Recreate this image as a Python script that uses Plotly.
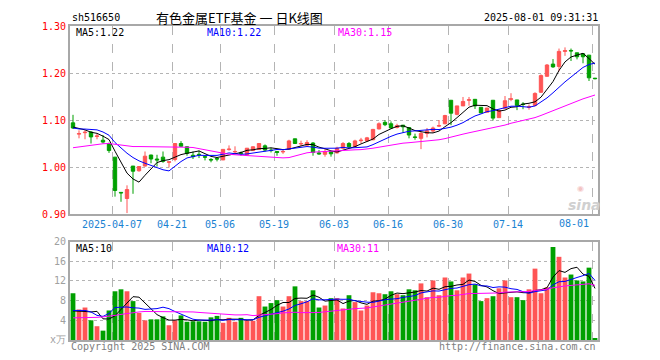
import plotly.graph_objects as go

# ---------------- data ----------------
dates = [
    "2025-03-26", "2025-03-27", "2025-03-28", "2025-03-31",
    "2025-04-01", "2025-04-02", "2025-04-03", "2025-04-07", "2025-04-08", "2025-04-09",
    "2025-04-10", "2025-04-11", "2025-04-14", "2025-04-15", "2025-04-16", "2025-04-17",
    "2025-04-18", "2025-04-21", "2025-04-22", "2025-04-23", "2025-04-24", "2025-04-25",
    "2025-04-28", "2025-04-29", "2025-04-30",
    "2025-05-06", "2025-05-07", "2025-05-08", "2025-05-09", "2025-05-12", "2025-05-13",
    "2025-05-14", "2025-05-15", "2025-05-16", "2025-05-19", "2025-05-20", "2025-05-21",
    "2025-05-22", "2025-05-23", "2025-05-26", "2025-05-27", "2025-05-28", "2025-05-29",
    "2025-05-30",
    "2025-06-03", "2025-06-04", "2025-06-05", "2025-06-06", "2025-06-09", "2025-06-10",
    "2025-06-11", "2025-06-12", "2025-06-13", "2025-06-16", "2025-06-17", "2025-06-18",
    "2025-06-19", "2025-06-20", "2025-06-23", "2025-06-24", "2025-06-25", "2025-06-26",
    "2025-06-27", "2025-06-30",
    "2025-07-01", "2025-07-02", "2025-07-03", "2025-07-04", "2025-07-07", "2025-07-08",
    "2025-07-09", "2025-07-10", "2025-07-11", "2025-07-14", "2025-07-15", "2025-07-16",
    "2025-07-17", "2025-07-18", "2025-07-21", "2025-07-22", "2025-07-23", "2025-07-24",
    "2025-07-25", "2025-07-28", "2025-07-29", "2025-07-30", "2025-07-31",
    "2025-08-01",
]

opens = [1.094, 1.070, 1.073, 1.0745, 1.065, 1.057, 1.050, 1.021, 0.946, 0.933,
         1.002, 0.992, 1.002, 1.0255, 1.017, 1.021, 1.010, 1.016, 1.050, 1.043,
         1.025, 1.027, 1.022, 1.016, 1.018, 1.015, 1.037, 1.032, 1.030, 1.026,
         1.035, 1.0375, 1.045, 1.036, 1.033, 1.032, 1.038, 1.060, 1.049, 1.0465,
         1.051, 1.030, 1.027, 1.033, 1.030, 1.040, 1.050, 1.044, 1.056, 1.0555,
         1.058, 1.081, 1.095, 1.092, 1.084, 1.089, 1.084, 1.064, 1.061, 1.0715,
         1.0765, 1.087, 1.092, 1.142, 1.112, 1.130, 1.142, 1.144, 1.127, 1.1165,
         1.142, 1.105, 1.125, 1.144, 1.1427, 1.134, 1.127, 1.131, 1.159, 1.193,
         1.219, 1.214, 1.246, 1.248, 1.243, 1.241, 1.238, 1.189]
highs = [1.111, 1.078, 1.078, 1.076, 1.071, 1.068, 1.052, 1.021, 0.946, 0.961,
         1.002, 1.002, 1.033, 1.026, 1.026, 1.033, 1.011, 1.051, 1.055, 1.044,
         1.033, 1.035, 1.024, 1.019, 1.021, 1.0375, 1.046, 1.044, 1.033, 1.040,
         1.044, 1.050, 1.048, 1.041, 1.033, 1.036, 1.058, 1.060, 1.056, 1.057,
         1.053, 1.036, 1.039, 1.033, 1.043, 1.053, 1.053, 1.058, 1.062, 1.064,
         1.081, 1.095, 1.100, 1.097, 1.092, 1.089, 1.085, 1.071, 1.075, 1.083,
         1.086, 1.100, 1.111, 1.142, 1.130, 1.149, 1.149, 1.144, 1.127, 1.1255,
         1.142, 1.123, 1.151, 1.157, 1.1427, 1.138, 1.133, 1.159, 1.197, 1.219,
         1.2297, 1.252, 1.2545, 1.252, 1.243, 1.242, 1.238, 1.189]
lows = [1.081, 1.061, 1.059, 1.050, 1.059, 1.050, 1.030, 0.937, 0.926, 0.902,
        0.943, 0.990, 1.001, 1.008, 1.001, 1.009, 0.999, 1.012, 1.043, 1.024,
        1.017, 1.019, 1.014, 1.010, 1.012, 1.015, 1.035, 1.029, 1.024, 1.025,
        1.035, 1.0375, 1.033, 1.031, 1.024, 1.028, 1.037, 1.049, 1.044, 1.045,
        1.024, 1.026, 1.022, 1.022, 1.029, 1.038, 1.040, 1.043, 1.050, 1.054,
        1.057, 1.080, 1.087, 1.083, 1.082, 1.073, 1.061, 1.058, 1.038, 1.063,
        1.073, 1.085, 1.091, 1.089, 1.110, 1.130, 1.1305, 1.1235, 1.115, 1.1165,
        1.099, 1.105, 1.124, 1.140, 1.121, 1.123, 1.122, 1.129, 1.158, 1.192,
        1.211, 1.2035, 1.2365, 1.2255, 1.229, 1.2207, 1.183, 1.1865]
closes = [1.083, 1.071, 1.074, 1.064, 1.066, 1.053, 1.035, 0.950, 0.945, 0.952,
          0.991, 1.001, 1.023, 1.017, 1.015, 1.012, 1.011, 1.050, 1.044, 1.029,
          1.022, 1.026, 1.021, 1.015, 1.017, 1.0375, 1.038, 1.033, 1.029, 1.040,
          1.043, 1.050, 1.036, 1.035, 1.031, 1.033, 1.0555, 1.050, 1.050, 1.052,
          1.031, 1.028, 1.033, 1.028, 1.040, 1.050, 1.043, 1.0555, 1.057, 1.062,
          1.080, 1.092, 1.090, 1.083, 1.088, 1.0855, 1.068, 1.063, 1.0715, 1.077,
          1.083, 1.088, 1.1095, 1.1145, 1.130, 1.1395, 1.143, 1.130, 1.115, 1.1255,
          1.104, 1.120, 1.141, 1.145, 1.131, 1.133, 1.128, 1.1565, 1.1945, 1.217,
          1.213, 1.246, 1.2476, 1.247, 1.2345, 1.2345, 1.1897, 1.188]
volumes = [9.5, 6.2, 6.6, 4.0, 2.8, 1.9, 6.0, 9.9, 10.3, 9.9,
           7.9, 5.5, 4.0, 4.2, 4.2, 4.8, 3.0, 4.0, 5.0, 3.7,
           3.8, 3.8, 3.7, 4.6, 4.9, 3.5, 4.5, 3.7, 4.5, 3.9,
           3.9, 8.9, 6.8, 7.5, 8.1, 6.8, 8.9, 10.9, 7.9, 7.9,
           10.1, 6.6, 7.0, 8.5, 8.5, 6.4, 9.1, 7.7, 6.0, 7.0,
           9.7, 9.5, 9.3, 9.9, 9.3, 9.1, 10.3, 10.1, 11.5, 8.7,
           12.1, 9.1, 12.7, 11.9, 10.1, 12.7, 13.5, 11.3, 7.9, 8.5,
           8.9, 10.5, 12.1, 8.7, 8.7, 8.1, 10.3, 14.5, 9.5, 10.7,
           18.9, 16.9, 12.7, 13.3, 12.1, 11.9, 14.7, 0.4]

price_ma5_head = [1.085, 1.082, 1.079, 1.074]
price_ma10_head = [1.083, 1.081, 1.0807, 1.080, 1.079, 1.0745, 1.0676, 1.052, 1.040]
price_ma30_head = [1.041, 1.043, 1.045, 1.047, 1.049, 1.0495, 1.050, 1.048, 1.046, 1.044,
                   1.0435, 1.0435, 1.0435, 1.0435, 1.0435, 1.0435, 1.0435, 1.043, 1.043, 1.042,
                   1.0415, 1.039, 1.036, 1.033, 1.031, 1.028, 1.027, 1.026, 1.025]
vol_ma5_head = [5.9, 5.9, 5.8, 5.7]
vol_ma10_head = [6.0, 6.0, 6.0, 5.7, 5.0, 4.8, 5.4, 6.6, 6.6]
vol_ma30_head = [4.5, 4.5, 4.5, 4.6, 4.6, 4.7, 4.8, 5.0, 5.2, 5.4,
                 5.6, 5.7, 5.8, 5.8, 5.8, 5.8, 5.8, 5.8, 5.7, 5.7,
                 5.7, 5.6, 5.5, 5.4, 5.3, 5.2, 5.2, 5.1, 5.1]

tick_dates = ["2025-04-07", "2025-04-21", "2025-05-06", "2025-05-19", "2025-06-03",
              "2025-06-16", "2025-06-30", "2025-07-14", "2025-08-01"]
tick_labels = ["2025-04-07", "04-21", "05-06", "05-19", "06-03",
               "06-16", "06-30", "07-14", "08-01"]
price_ticks = [0.90, 1.00, 1.10, 1.20, 1.30]
vol_ticks = [0, 4, 8, 12, 16, 20]
vol_tick_labels = ["x万", "4", "8", "12", "16", "20"]

symbol = "sh516650"
title = "有色金属ETF基金 一 日K线图"
stamp = "2025-08-01 09:31:31"
price_legend = ["MA5:1.22", "MA10:1.22", "MA30:1.15"]
vol_legend = ["MA5:10", "MA10:12", "MA30:11"]

# ---------------- helpers ----------------
def moving_avg(vals, n, head):
    out = []
    for i in range(len(vals)):
        if i < n - 1:
            out.append(head[i])
        else:
            out.append(sum(vals[i - n + 1:i + 1]) / n)
    return out

RED = "#ff5555"
GREEN = "#00a000"
MA_COLORS = ["#000000", "#0000ff", "#ff00ff"]
MONO = "DejaVu Sans Mono"
DATE_COLOR = "#1a82d2"

idx = list(range(len(dates)))
tick_pos = [dates.index(d) - 0.5 for d in tick_dates]

pma = [moving_avg(closes, 5, price_ma5_head),
       moving_avg(closes, 10, price_ma10_head),
       moving_avg(closes, 30, price_ma30_head)]
vma = [moving_avg(volumes, 5, vol_ma5_head),
       moving_avg(volumes, 10, vol_ma10_head),
       moving_avg(volumes, 30, vol_ma30_head)]

vol_colors = [RED if c >= o else GREEN for o, c in zip(opens, closes)]

fig = go.Figure()

fig.add_trace(go.Candlestick(
    x=idx, open=opens, high=highs, low=lows, close=closes,
    increasing=dict(line=dict(color=RED, width=1), fillcolor=RED),
    decreasing=dict(line=dict(color=GREEN, width=1), fillcolor=GREEN),
    whiskerwidth=0, xaxis="x", yaxis="y", hoverinfo="skip", showlegend=False))

for series, col in zip(pma, MA_COLORS):
    fig.add_trace(go.Scatter(x=idx, y=series, mode="lines",
                             line=dict(color=col, width=1),
                             xaxis="x", yaxis="y", hoverinfo="skip", showlegend=False))

fig.add_trace(go.Bar(x=idx, y=volumes, marker=dict(color=vol_colors, line=dict(width=0)),
                     width=0.8, xaxis="x2", yaxis="y2", hoverinfo="skip", showlegend=False))

for series, col in zip(vma, MA_COLORS):
    fig.add_trace(go.Scatter(x=idx, y=series, mode="lines",
                             line=dict(color=col, width=1),
                             xaxis="x2", yaxis="y2", hoverinfo="skip", showlegend=False))

# ---------------- layout ----------------
# the page body has an 8px margin, so the figure is drawn 8px in from the window edge
OFF = 8
WIN_W, WIN_H = 660, 360
PLOT_L, PLOT_R, PLOT_T, PLOT_B = 70, 598, 21, 340   # window pixel coordinates
W, H = WIN_W - OFF, WIN_H - OFF
L, T = PLOT_L - OFF, PLOT_T - OFF
R = W - (PLOT_R - OFF)
B = H - (PLOT_B - OFF)
plot_w = PLOT_R - PLOT_L
plot_h = PLOT_B - PLOT_T

def px(xp):
    return (xp - PLOT_L) / plot_w

def py(yp):
    return (PLOT_B - yp) / plot_h

price_bottom = 212
vol_top = 240

axis_common = dict(showline=True, mirror=True, linecolor="#a8a8a8", linewidth=2,
                   zeroline=False, ticks="", fixedrange=True)

# last date label is pulled inside the frame, as in the original
shown_labels = tick_labels[:-1] + [""]

fig.update_layout(
    width=W, height=H,
    margin=dict(l=L, r=R, t=T, b=B, pad=0),
    paper_bgcolor="white", plot_bgcolor="white",
    boxgap=0.2, bargap=0.2,
    showlegend=False,
    font=dict(family=MONO, size=10, color="#000000"),
    xaxis=dict(domain=[0, 1], range=[-0.5, len(dates) - 0.5], anchor="y",
               tickmode="array", tickvals=tick_pos, ticktext=shown_labels,
               tickfont=dict(family=MONO, size=10, color=DATE_COLOR),
               showgrid=True, gridcolor="#b4b4b4", griddash="dash", gridwidth=1,
               rangeslider=dict(visible=False), **axis_common),
    yaxis=dict(domain=[py(price_bottom), 1], range=[0.90, 1.30], anchor="x",
               tickmode="array", tickvals=price_ticks,
               ticktext=[f"{v:.2f}" for v in price_ticks],
               tickfont=dict(family=MONO, size=10, color="#ff0000"),
               showgrid=True, gridcolor="#b4b4b4", griddash="dot", gridwidth=1,
               **axis_common),
    xaxis2=dict(domain=[0, 1], range=[-0.5, len(dates) - 0.5], anchor="y2",
                tickmode="array", tickvals=tick_pos, showticklabels=False,
                showgrid=True, gridcolor="#b4b4b4", griddash="dash", gridwidth=1,
                **axis_common),
    yaxis2=dict(domain=[0, py(vol_top)], range=[0, 20], anchor="x2",
                tickmode="array", tickvals=vol_ticks, ticktext=vol_tick_labels,
                tickfont=dict(family=MONO, size=10, color="#a0a0a0"),
                showgrid=True, gridcolor="#b4b4b4", griddash="dot", gridwidth=1,
                **axis_common),
)

ann = []
def text(x, y, s, color="#000000", anchor="left", size=10, family=MONO):
    ann.append(dict(xref="paper", yref="paper", x=px(x), y=py(y), text=s,
                    showarrow=False, xanchor=anchor, yanchor="middle",
                    font=dict(family=family, size=size, color=color)))

text(70, 12, symbol)
text(239, 12, title, anchor="center", size=13, family="Noto Sans CJK SC")
text(600, 12, stamp, anchor="right")

for s, xp, col in zip(price_legend, [74, 205, 336], MA_COLORS):
    text(xp, 28, s, color=col)
for s, xp, col in zip(vol_legend, [74, 205, 335], MA_COLORS):
    text(xp, 247, s, color=col)

# last date label, right-aligned on its gridline
ann.append(dict(xref="x", yref="paper", x=tick_pos[-1], y=py(222), text=tick_labels[-1],
                showarrow=False, xanchor="right", yanchor="middle", xshift=-1,
                font=dict(family=MONO, size=10, color=DATE_COLOR)))

text(69, 347, "Copyright 2025 SINA.COM", color="#808080")
text(598, 347, "http://finance.sina.com.cn", color="#808080", anchor="right")
text(580, 186, "◉", color="#f3c4c4", anchor="center", size=8, family="DejaVu Sans")
text(584, 203, "<i><b>sina</b></i>", color="#d0d0d0", anchor="center", size=14,
     family="DejaVu Sans")

fig.update_layout(annotations=ann)

fig.write_html("out.html")
